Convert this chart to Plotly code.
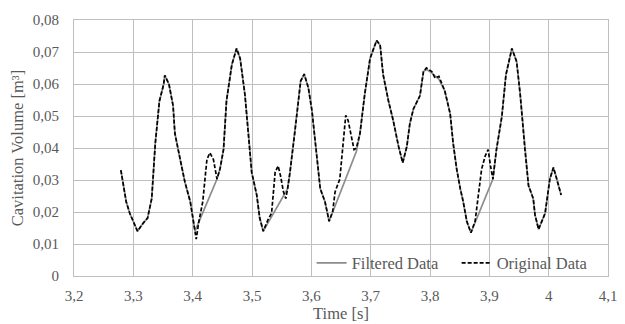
import plotly.graph_objects as go

# Original (unfiltered) data
time_original = [3.279, 3.288, 3.294, 3.300, 3.307, 3.317, 3.324, 3.331, 3.337, 3.344, 3.351, 3.353, 3.357, 3.360,
                 3.367, 3.370, 3.379, 3.387, 3.396, 3.404, 3.406, 3.410, 3.417, 3.424, 3.429, 3.435, 3.441, 3.446,
                 3.452, 3.457, 3.466, 3.474, 3.480, 3.488, 3.494, 3.4995, 3.508, 3.513, 3.519, 3.527, 3.533, 3.539,
                 3.544, 3.548, 3.553, 3.557, 3.560, 3.564, 3.572, 3.578, 3.582, 3.588, 3.595, 3.601, 3.609, 3.615,
                 3.623, 3.630, 3.636, 3.640, 3.648, 3.654, 3.658, 3.662, 3.668, 3.672, 3.676, 3.682, 3.690, 3.699,
                 3.710, 3.716, 3.721, 3.730, 3.738, 3.747, 3.754, 3.761, 3.766, 3.772, 3.783, 3.789, 3.794, 3.803,
                 3.8085, 3.815, 3.825, 3.834, 3.839, 3.845, 3.851, 3.856, 3.862, 3.869, 3.876, 3.881, 3.887, 3.893,
                 3.898, 3.902, 3.906, 3.912, 3.921, 3.928, 3.938, 3.946, 3.952, 3.960, 3.966, 3.974, 3.977, 3.983,
                 3.991, 3.994, 4.002, 4.008, 4.012, 4.016, 4.021]
volume_original = [0.0331, 0.0232, 0.0196, 0.0171, 0.0140, 0.0166, 0.0181, 0.0242, 0.0415, 0.0547, 0.0598, 0.0627, 0.0609, 0.0600,
                   0.0532, 0.0446, 0.0364, 0.0293, 0.0232, 0.0140, 0.0115, 0.0166, 0.0232, 0.0364, 0.0385, 0.0364, 0.0303, 0.0334,
                   0.0395, 0.0547, 0.0660, 0.0711, 0.0680, 0.0568, 0.0446, 0.0324, 0.0253, 0.0181, 0.0140, 0.0176, 0.0196, 0.0324,
                   0.0344, 0.0314, 0.0263, 0.0242, 0.0273, 0.0324, 0.0446, 0.0547, 0.0609, 0.0631, 0.0588, 0.0517, 0.0364, 0.0273,
                   0.0232, 0.0171, 0.0202, 0.0263, 0.0303, 0.0425, 0.0502, 0.0486, 0.0425, 0.0395, 0.0400, 0.0446, 0.0568, 0.0680,
                   0.0736, 0.0721, 0.0629, 0.0547, 0.0486, 0.0405, 0.0354, 0.0405, 0.0476, 0.0522, 0.0563, 0.0639, 0.0650, 0.0639,
                   0.0619, 0.0624, 0.0578, 0.0507, 0.0415, 0.0334, 0.0273, 0.0232, 0.0171, 0.0135, 0.0171, 0.0242, 0.0334, 0.0375,
                   0.0395, 0.0344, 0.0303, 0.0395, 0.0497, 0.0629, 0.0711, 0.0670, 0.0568, 0.0395, 0.0283, 0.0242, 0.0191, 0.0146,
                   0.0186, 0.0196, 0.0303, 0.0339, 0.0314, 0.0283, 0.0253]

# Filtered data (bumps removed)
time_filtered = [3.279, 3.288, 3.294, 3.300, 3.307, 3.317, 3.324, 3.331, 3.337, 3.344, 3.351, 3.353, 3.357, 3.360,
                 3.367, 3.370, 3.379, 3.387, 3.396, 3.404, 3.441, 3.446,
                 3.452, 3.457, 3.466, 3.474, 3.480, 3.488, 3.494, 3.4995, 3.508, 3.513, 3.519, 3.560, 3.564,
                 3.572, 3.578, 3.582, 3.588, 3.595, 3.601, 3.609, 3.615,
                 3.623, 3.630, 3.676, 3.682, 3.690, 3.699,
                 3.710, 3.716, 3.721, 3.730, 3.738, 3.747, 3.754, 3.761, 3.766, 3.772, 3.783, 3.789, 3.794, 3.803,
                 3.8085, 3.815, 3.825, 3.834, 3.839, 3.845, 3.851, 3.856, 3.862, 3.869, 3.906, 3.912, 3.921, 3.928,
                 3.938, 3.946, 3.952, 3.960, 3.966, 3.974, 3.977, 3.983,
                 3.991, 3.994, 4.002, 4.008, 4.012, 4.016, 4.021]
volume_filtered = [0.0331, 0.0232, 0.0196, 0.0171, 0.0140, 0.0166, 0.0181, 0.0242, 0.0415, 0.0547, 0.0598, 0.0627, 0.0609, 0.0600,
                   0.0532, 0.0446, 0.0364, 0.0293, 0.0232, 0.0140, 0.0303, 0.0334,
                   0.0395, 0.0547, 0.0660, 0.0711, 0.0680, 0.0568, 0.0446, 0.0324, 0.0253, 0.0181, 0.0140, 0.0273, 0.0324,
                   0.0446, 0.0547, 0.0609, 0.0631, 0.0588, 0.0517, 0.0364, 0.0273,
                   0.0232, 0.0171, 0.0390, 0.0446, 0.0568, 0.0680,
                   0.0736, 0.0721, 0.0629, 0.0547, 0.0486, 0.0405, 0.0354, 0.0405, 0.0476, 0.0522, 0.0563, 0.0639, 0.0645, 0.0635,
                   0.0625, 0.0615, 0.0578, 0.0507, 0.0415, 0.0334, 0.0273, 0.0232, 0.0171, 0.0135, 0.0303, 0.0395, 0.0497, 0.0629,
                   0.0711, 0.0670, 0.0568, 0.0395, 0.0283, 0.0242, 0.0191, 0.0146,
                   0.0186, 0.0196, 0.0303, 0.0339, 0.0314, 0.0283, 0.0253]

x_tick_values = [3.2, 3.3, 3.4, 3.5, 3.6, 3.7, 3.8, 3.9, 4.0, 4.1]
x_tick_labels = ["3,2", "3,3", "3,4", "3,5", "3,6", "3,7", "3,8", "3,9", "4", "4,1"]
y_tick_values = [0, 0.01, 0.02, 0.03, 0.04, 0.05, 0.06, 0.07, 0.08]
y_tick_labels = ["0", "0,01", "0,02", "0,03", "0,04", "0,05", "0,06", "0,07", "0,08"]

FONT = "Liberation Serif, Times New Roman, serif"
TXT = "#595959"
GRID = "#bfbfbf"

fig = go.Figure()
fig.add_trace(go.Scatter(x=time_filtered, y=volume_filtered, mode="lines", name="Filtered Data",
                         line=dict(color="#8c8c8c", width=1.7)))
fig.add_trace(go.Scatter(x=time_original, y=volume_original, mode="lines", name="Original Data",
                         line=dict(color="#000000", width=1.7, dash="4px,2px")))

fig.update_layout(
    width=625, height=324,
    margin=dict(l=74, r=17, t=14, b=48),
    paper_bgcolor="white", plot_bgcolor="white",
    font=dict(family=FONT, color=TXT, size=15),
    showlegend=True,
    legend=dict(orientation="h", x=0.445, xanchor="left", y=0.05, yanchor="middle",
                bgcolor="rgba(0,0,0,0)", font=dict(size=16.5, color=TXT, family=FONT),
                entrywidth=100, entrywidthmode="pixels", tracegroupgap=0),
)
fig.update_xaxes(range=[3.2, 4.1], tickvals=x_tick_values, ticktext=x_tick_labels, automargin=False,
                 showgrid=True, gridcolor=GRID, gridwidth=1, zeroline=False,
                 showline=True, linecolor=GRID, linewidth=1, mirror=True,
                 ticks="", ticklabelstandoff=6, tickfont=dict(size=15), ticklabeloverflow="allow",
                 title=dict(text="Time [s]", font=dict(size=16.5), standoff=3))
fig.update_yaxes(range=[0, 0.08], tickvals=y_tick_values, ticktext=y_tick_labels, automargin=True,
                 showgrid=True, gridcolor=GRID, gridwidth=1, zeroline=False,
                 showline=True, linecolor=GRID, linewidth=1, mirror=True,
                 ticks="", ticklabelstandoff=11, tickfont=dict(size=15), ticklabeloverflow="allow",
                 title=dict(text="Cavitation Volume [m³]", font=dict(size=16.5), standoff=4))

fig.write_html("out.html", post_script="document.body.style.margin='0';",
               config={"displayModeBar": False})
